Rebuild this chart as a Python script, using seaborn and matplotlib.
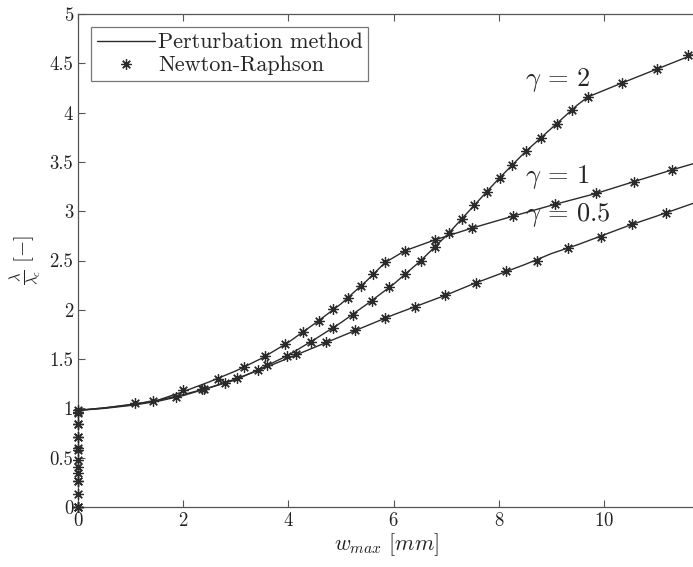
import numpy as np
import pandas as pd
import matplotlib
matplotlib.use("Agg")
import matplotlib.pyplot as plt
import seaborn as sns
from matplotlib.lines import Line2D

# perturbation method curves (lambda / lambda_c vs w_max)
w_g05 = [0, 0.5, 1.0, 1.5, 2.0, 2.5, 3.0, 3.5, 4.0, 4.5, 5.0, 5.5, 6.0, 6.5, 7.0,
         7.5, 8.0, 8.5, 9.0, 9.5, 10.0, 10.5, 11.0, 11.75]
lam_g05 = [0.98, 1.005, 1.04, 1.08, 1.14, 1.21, 1.30, 1.40, 1.51, 1.62, 1.73, 1.84,
           1.95, 2.05, 2.15, 2.26, 2.36, 2.46, 2.57, 2.66, 2.76, 2.86, 2.95, 3.09]

w_g1 = [0, 0.5, 1.0, 1.5, 2.0, 2.5, 3.0, 3.5, 4.0, 4.5, 5.0, 5.5, 5.84, 6.22, 6.79,
        7.5, 8.27, 9.07, 9.85, 10.57, 11.3, 11.75]
lam_g1 = [0.98, 1.005, 1.035, 1.08, 1.17, 1.27, 1.38, 1.51, 1.67, 1.86, 2.06, 2.30,
          2.48, 2.60, 2.71, 2.83, 2.95, 3.07, 3.18, 3.30, 3.42, 3.49]

w_g2 = [0, 0.5, 1.0, 1.5, 2.0, 2.5, 3.0, 3.5, 4.0, 4.5, 5.0, 5.5, 6.0, 6.5, 7.0,
        7.5, 8.0, 8.5, 9.0, 9.5, 9.7, 10.34, 11.0, 11.75]
lam_g2 = [0.98, 1.0, 1.03, 1.07, 1.13, 1.21, 1.29, 1.41, 1.54, 1.70, 1.87, 2.06,
          2.26, 2.49, 2.75, 3.04, 3.33, 3.60, 3.84, 4.08, 4.16, 4.30, 4.44, 4.60]

# Newton-Raphson points
nr_w_g05 = [0, 0, 0, 0, 0, 0, 0, 0, 1.08, 1.86, 2.40, 3.02, 3.59, 4.14, 4.71, 5.27,
            5.84, 6.41, 6.98, 7.57, 8.14, 8.73, 9.32, 9.94, 10.53, 11.18]
nr_lam_g05 = [0, 0.13, 0.26, 0.41, 0.58, 0.71, 0.84, 0.96, 1.05, 1.12, 1.20, 1.31,
              1.44, 1.55, 1.67, 1.80, 1.92, 2.03, 2.15, 2.27, 2.39, 2.50, 2.63,
              2.74, 2.87, 2.98]

nr_w_g1 = [0, 0, 0, 0, 0, 1.43, 2.0, 2.66, 3.16, 3.56, 3.94, 4.28, 4.58, 4.85, 5.13,
           5.38, 5.61, 5.84, 6.22, 6.79, 7.49, 8.27, 9.07, 9.85, 10.57, 11.3]
nr_lam_g1 = [0, 0.26, 0.48, 0.71, 0.95, 1.07, 1.19, 1.30, 1.42, 1.53, 1.65, 1.77,
             1.89, 2.01, 2.12, 2.24, 2.36, 2.48, 2.60, 2.71, 2.83, 2.95, 3.07,
             3.18, 3.30, 3.42]

nr_w_g2 = [0, 0, 0, 0, 0, 2.36, 2.79, 3.42, 3.97, 4.43, 4.85, 5.23, 5.59, 5.91, 6.22,
           6.52, 6.79, 7.05, 7.30, 7.53, 7.78, 8.02, 8.25, 8.52, 8.80, 9.11, 9.39,
           9.70, 10.34, 11.0, 11.6]
nr_lam_g2 = [0, 0.34, 0.60, 0.84, 0.98, 1.20, 1.26, 1.39, 1.53, 1.67, 1.82, 1.95,
             2.09, 2.23, 2.36, 2.50, 2.64, 2.78, 2.92, 3.06, 3.19, 3.34, 3.47, 3.61,
             3.74, 3.88, 4.03, 4.16, 4.30, 4.44, 4.58]

labels = [r"$\gamma\,=\,2$", r"$\gamma\,=\,1$", r"$\gamma\,=\,0.5$"]
label_pos = [(8.5, 4.33), (8.5, 3.35), (8.5, 2.96)]

sns.set_style("ticks")
plt.rcParams["font.family"] = ["cmr10", "DejaVu Serif"]
plt.rcParams["mathtext.fontset"] = "cm"
plt.rcParams["axes.formatter.use_mathtext"] = True

line_col = "#2b2b2b"
axis_col = "#555555"

fig = plt.figure(figsize=(6.93, 5.67), dpi=100)
ax = fig.add_axes([78 / 693, 60 / 567, 618 / 693, 493 / 567])

curves = [(w_g2, lam_g2, nr_w_g2, nr_lam_g2),
          (w_g1, lam_g1, nr_w_g1, nr_lam_g1),
          (w_g05, lam_g05, nr_w_g05, nr_lam_g05)]

star = (8, 2, 0)
for w, lam, nw, nl in curves:
    sns.lineplot(x=w, y=lam, ax=ax, color=line_col, lw=1.0,
                 estimator=None, sort=False)
    sns.lineplot(x=nw, y=nl, ax=ax, color=line_col, linestyle="",
                 marker=star, markersize=7.5, markeredgewidth=0.9,
                 markeredgecolor=line_col, estimator=None, sort=False,
                 clip_on=False, zorder=4)

for lab, (x, y) in zip(labels, label_pos):
    ax.text(x, y, lab, fontsize=19, ha="left", va="center")

ax.set_xlim(0, 11.75)
ax.set_ylim(0, 5)
ax.set_xticks([0, 2, 4, 6, 8, 10])
ax.set_yticks(np.arange(0, 5.01, 0.5))
ax.set_yticklabels(["0", "0.5", "1", "1.5", "2", "2.5", "3", "3.5", "4", "4.5", "5"])
ax.tick_params(direction="in", length=5, width=0.8, colors=axis_col,
               labelcolor="#222222", labelsize=13.5, top=True)
for s in ax.spines.values():
    s.set_color(axis_col)
    s.set_linewidth(0.9)
    s.set_visible(True)

ax.set_xlabel(r"$w_{max}\ [mm]$", fontsize=16, color="#222222", labelpad=1)
ax.set_ylabel(r"$\frac{\lambda}{\lambda_c}\ [-]$", fontsize=15, color="#222222",
              labelpad=4)

handles = [Line2D([], [], color=line_col, lw=1.0),
           Line2D([], [], color=line_col, linestyle="", marker=star,
                  markersize=7.5, markeredgewidth=0.9)]
leg = ax.legend(handles, ["Perturbation method", "Newton-Raphson"],
                loc="upper left", fontsize=16, frameon=True, fancybox=False,
                handlelength=2.6, handletextpad=0.15, borderpad=0.25,
                labelspacing=0.15, borderaxespad=0.6)
leg.get_frame().set_edgecolor(axis_col)
leg.get_frame().set_linewidth(0.9)

fig.savefig("out.png", dpi=100)
